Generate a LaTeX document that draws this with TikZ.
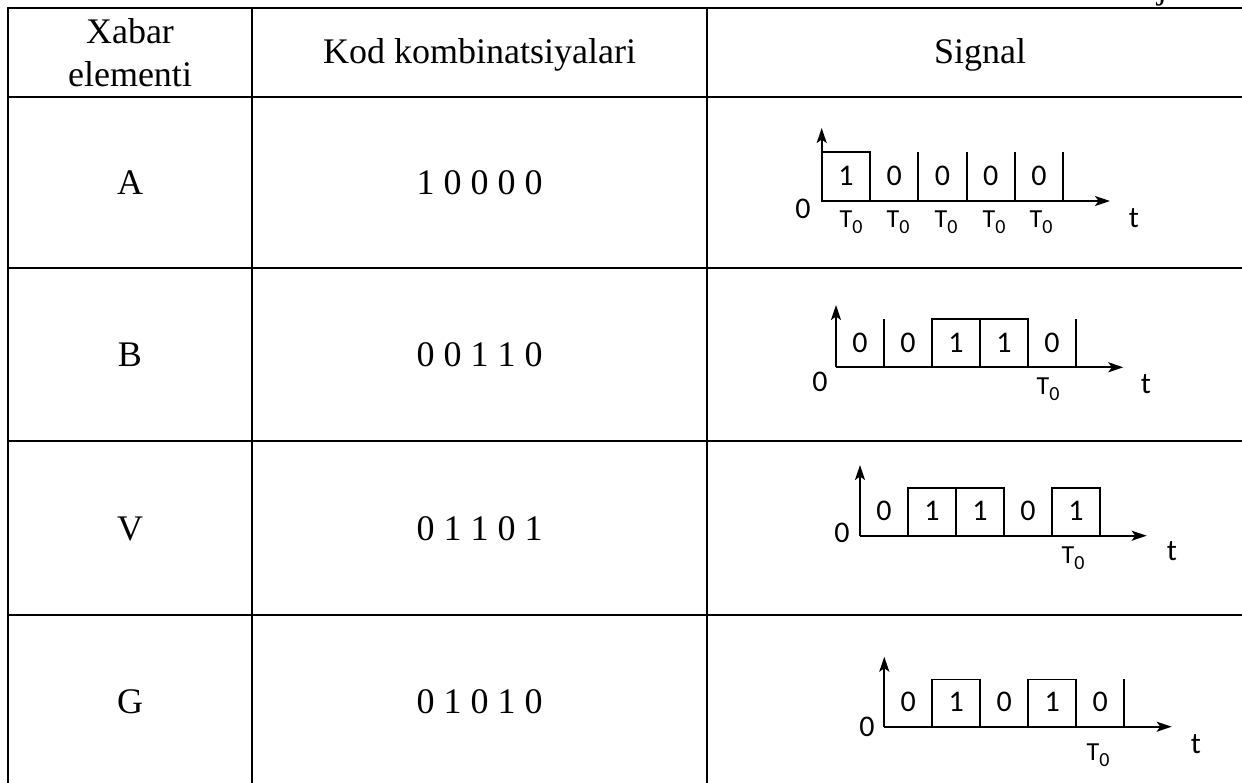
\documentclass[tikz,border=0pt]{standalone}
\usepackage{fontspec}
\setmainfont{Liberation Serif}
\newfontfamily\sigfont{Carlito}
\usetikzlibrary{arrows.meta}
\begin{document}
\begin{tikzpicture}[x=1pt,y=-1pt,
  tline/.style={line width=2.8pt},
  sig/.style={line width=1.8pt},
  axis/.style={line width=1.9pt,-{Stealth[length=15pt,width=10pt,inset=3.5pt]}},
  head/.style={font=\fontsize{36}{43.5}\selectfont, inner sep=0pt, align=center},
  cell/.style={font=\fontsize{36}{43.5}\selectfont, inner sep=0pt, anchor=base},
  bit/.style={font=\sigfont\fontsize{30}{30}\selectfont, inner sep=0pt},
  lab/.style={font=\sigfont\fontsize{30}{30}\selectfont, inner sep=0pt},
  tlab/.style={font=\sigfont\fontsize{26}{26}\selectfont, inner sep=0pt}]
\useasboundingbox (0,0) rectangle (1242,782);
\begin{scope}
\clip (0,0) rectangle (1242,782);
\draw[tline, line cap=rect] (1262,8) -- (8,8) -- (8,800);
\foreach \y in {97,268,441,615} \draw[tline] (8,\y) -- (1262,\y);
\foreach \x in {252,707} \draw[tline] (\x,8) -- (\x,800);
\node[font=\fontsize{36}{36}\selectfont, inner sep=0pt, anchor=base west] (jj) at (1157,-2) {j};
\end{scope}
% header
\node[head] (h1) at (130,52.7) {Xabar\\elementi};
\node[head, anchor=base] (h2) at (479.5,63) {Kod kombinatsiyalari};
\node[head, anchor=base] (h3) at (980,63) {Signal};
% rows
\node[cell] (rA) at (130,194.5) {A};
\node[cell] (cA) at (479.5,194.5) {1 0 0 0 0};
\node[cell] (rB) at (130,366.5) {B};
\node[cell] (cB) at (479.5,366.5) {0 0 1 1 0};
\node[cell] (rV) at (130,540) {V};
\node[cell] (cV) at (479.5,540) {0 1 1 0 1};
\node[cell] (rG) at (130,713) {G};
\node[cell] (cG) at (479.5,713) {0 1 0 1 0};
% ---- signal A
\coordinate (oA) at (821.7,201);
\coordinate (yA) at (821.7,128);
\coordinate (xA) at (1110,201);
\draw[axis] (oA) -- (yA);
\draw[axis] (oA) -- (xA);
\draw[sig] (oA) rectangle ++(48.3,-49.3);
\foreach \i in {2,3,4,5} \draw[sig] (821.7+\i*48.3,201) -- ++(0,-49.3);
\foreach \b [count=\i] in {1,0,0,0,0} \node[bit] (bA\i) at (821.7+\i*48.3-24.15,176) {\b};
\node[lab] (zA) at (803,209) {0};
\node[lab] (tA) at (1134,218) {t};
\foreach \x [count=\i] in {851,898,946,994,1041} \node[tlab] (TA\i) at (\x,222) {T\raisebox{-6pt}{\fontsize{20}{20}\selectfont 0}};
% ---- signal B
\coordinate (oB) at (836,367.3);
\coordinate (yB) at (836,305);
\coordinate (xB) at (1123.3,367.3);
\draw[axis] (oB) -- (yB);
\draw[axis] (oB) -- (xB);
\draw[sig] (836+96,367.3) rectangle ++(48,-48);
\draw[sig] (836+144,367.3) rectangle ++(48,-48);
\foreach \i in {1,5} \draw[sig] (836+\i*48,367.3) -- ++(0,-48);
\foreach \b [count=\i] in {0,0,1,1,0} \node[bit] (bB\i) at (836+\i*48-24,342.7) {\b};
\node[lab] (zB) at (820,382) {0};
\node[lab] (tB) at (1146,384) {t};
\node[tlab] (TB) at (1048,389) {T\raisebox{-6pt}{\fontsize{20}{20}\selectfont 0}};
% ---- signal V
\coordinate (oV) at (860,535.7);
\coordinate (yV) at (860,465);
\coordinate (xV) at (1146.7,535.7);
\draw[axis] (oV) -- (yV);
\draw[axis] (oV) -- (xV);
\foreach \i in {1,2,4} \draw[sig] (860+\i*48,535.7) rectangle ++(48,-48);
\foreach \b [count=\i] in {0,1,1,0,1} \node[bit] (bV\i) at (860+\i*48-24,510.5) {\b};
\node[lab] (zV) at (842,533) {0};
\node[lab] (tV) at (1172,551) {t};
\node[tlab] (TV) at (1073,558) {T\raisebox{-6pt}{\fontsize{20}{20}\selectfont 0}};
% ---- signal G
\coordinate (oG) at (884.3,726.7);
\coordinate (yG) at (884.3,656.7);
\coordinate (xG) at (1171.7,726.7);
\draw[axis] (oG) -- (yG);
\draw[axis] (oG) -- (xG);
\foreach \i in {1,3} \draw[sig] (884.3+\i*48,726.7) rectangle ++(48,-47.3);
\draw[sig] (884.3+240,726.7) -- ++(0,-47.3);
\foreach \b [count=\i] in {0,1,0,1,0} \node[bit] (bG\i) at (884.3+\i*48-24,702) {\b};
\node[lab] (zG) at (867,727) {0};
\node[lab] (tG) at (1196,744) {t};
\node[tlab] (TG) at (1098,755) {T\raisebox{-6pt}{\fontsize{20}{20}\selectfont 0}};
\end{tikzpicture}
\end{document}
